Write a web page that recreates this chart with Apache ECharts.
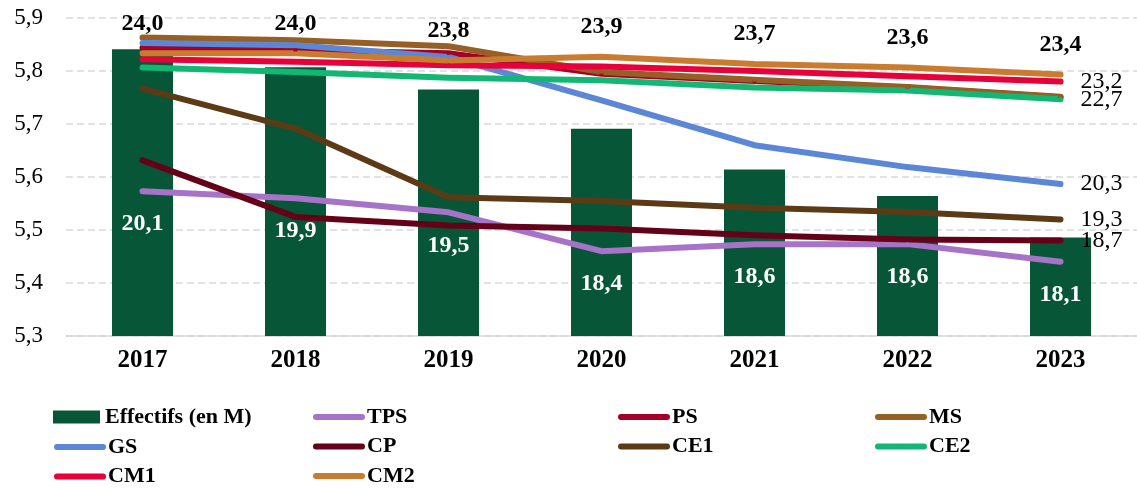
<!DOCTYPE html>
<html lang="fr">
<head>
    <meta charset="UTF-8">
    <title>Effectifs et taille des classes</title>
    <style>
        html, body { margin: 0; padding: 0; background: #fff; }
        #chart { width: 1137px; height: 489px; }
    </style>
</head>
<body>
<div id="chart"></div>
<script src="https://cdn.jsdelivr.net/npm/echarts@6/dist/echarts.min.js"></script>
<script>
    // années
    var years = ['2017', '2018', '2019', '2020', '2021', '2022', '2023'];
    // effectifs (en millions), axe de gauche
    var effectifs = [5.841, 5.807, 5.765, 5.691, 5.614, 5.564, 5.486];
    // élèves par classe, axe secondaire (caché)
    var tps = [20.1, 19.9, 19.5, 18.4, 18.6, 18.6, 18.1];
    var ps  = [24.16, 24.09, 24.0, 23.42, 23.22, 23.03, 22.76];
    var ms  = [24.45, 24.37, 24.2, 23.47, 23.25, 23.05, 22.77];
    var gs  = [24.29, 24.23, 23.9, 22.67, 21.4, 20.78, 20.3];
    var cp  = [20.97, 19.37, 19.13, 19.04, 18.85, 18.73, 18.7];
    var ce1 = [23.0, 21.87, 19.93, 19.82, 19.63, 19.51, 19.3];
    var ce2 = [23.6, 23.47, 23.31, 23.24, 23.03, 22.95, 22.7];
    var cm1 = [23.83, 23.76, 23.66, 23.63, 23.5, 23.35, 23.2];
    var cm2 = [24.0, 24.0, 23.8, 23.9, 23.7, 23.6, 23.4];
    var leftTicks = [5.3, 5.9, 0.1];   // min, max, pas

    function virgule(v) {
        return Number(v).toFixed(1).replace('.', ',');
    }

    var serif = 'Liberation Serif';

    function ligne(nom, data, couleur, extra) {
        var s = {
            name: nom,
            type: 'line',
            yAxisIndex: 1,
            data: data,
            symbol: 'circle',
            symbolSize: 4,
            itemStyle: { color: couleur, borderWidth: 0 },
            lineStyle: { color: couleur, width: 6, cap: 'round', join: 'round' },
            emphasis: { disabled: true }
        };
        if (extra) {
            for (var k in extra) s[k] = extra[k];
        }
        return s;
    }

    var finLabel = {
        show: true,
        distance: 20,
        fontFamily: serif,
        fontSize: 24,
        color: '#000',
        formatter: function (p) { return virgule(Array.isArray(p.value) ? p.value[1] : p.value); }
    };

    var legendText = { fontFamily: serif, fontWeight: 'bold', fontSize: 22, color: '#000', lineHeight: 22 };
    var legendLine = { width: 6, cap: 'round' };
    var legendSymbol = { borderWidth: 0 };

    function legendCol(left, top, noms) {
        return {
            left: left, top: top, orient: 'vertical', padding: 0, itemGap: 7.5,
            itemWidth: 46, itemHeight: 6,
            lineStyle: legendLine, itemStyle: legendSymbol,
            textStyle: legendText, data: noms
        };
    }

    var myChart = echarts.init(document.getElementById('chart'));
    var option = {
        animation: false,
        grid: { left: 66, right: 0, top: 18, bottom: 153 },
        legend: [
            { left: 53, top: 406, orient: 'vertical', padding: 0, itemWidth: 47, itemHeight: 13,
              textStyle: legendText, data: [{ name: 'Effectifs (en M)', icon: 'rect' }] },
            legendCol(54, 436, ['GS', 'CM1']),
            legendCol(313, 406, ['TPS', 'CP', 'CM2']),
            legendCol(618, 406, ['PS', 'CE1']),
            legendCol(875, 406, ['MS', 'CE2'])
        ],
        xAxis: {
            type: 'category',
            data: years,
            axisLine: { lineStyle: { color: '#d9d9d9', width: 1.5 } },
            axisTick: { show: false },
            axisLabel: { fontFamily: serif, fontWeight: 'bold', fontSize: 25, color: '#000', margin: 12 }
        },
        yAxis: [
            {
                type: 'value',
                min: leftTicks[0],
                max: leftTicks[1],
                interval: leftTicks[2],
                axisLine: { show: false },
                axisTick: { show: false },
                axisLabel: { fontFamily: serif, fontSize: 23, color: '#000', margin: 23, formatter: virgule },
                splitLine: { lineStyle: { color: '#d9d9d9', width: 1.5, type: [7, 4] } }
            },
            {
                type: 'value',
                min: 16,
                max: 25,
                show: false,
                splitLine: { show: false }
            }
        ],
        series: [
            {
                name: 'Effectifs (en M)',
                type: 'bar',
                data: effectifs,
                barWidth: 61,
                itemStyle: { color: '#085638' },
                emphasis: { disabled: true }
            },
            ligne('TPS', tps, '#a673c9', {
                label: {
                    show: true, position: 'bottom', distance: 19,
                    fontFamily: serif, fontWeight: 'bold', fontSize: 24, color: '#fff',
                    formatter: function (p) { return virgule(p.value); }
                }
            }),
            ligne('PS', ps, '#a50026'),
            ligne('MS', ms, '#955f26'),
            ligne('GS', gs, '#5b87d6', { endLabel: finLabel }),
            ligne('CP', cp, '#650019', { endLabel: finLabel }),
            ligne('CE1', ce1, '#5c3a16', { endLabel: finLabel }),
            ligne('CE2', ce2, '#13b774', { endLabel: finLabel }),
            ligne('CM1', cm1, '#e8003a', { endLabel: finLabel }),
            ligne('CM2', cm2, '#c97c30', {
                label: {
                    show: true, position: 'top', distance: 16,
                    fontFamily: serif, fontWeight: 'bold', fontSize: 24, color: '#000',
                    formatter: function (p) { return virgule(p.value); }
                }
            })
        ]
    };
    myChart.setOption(option);
</script>
</body>
</html>
